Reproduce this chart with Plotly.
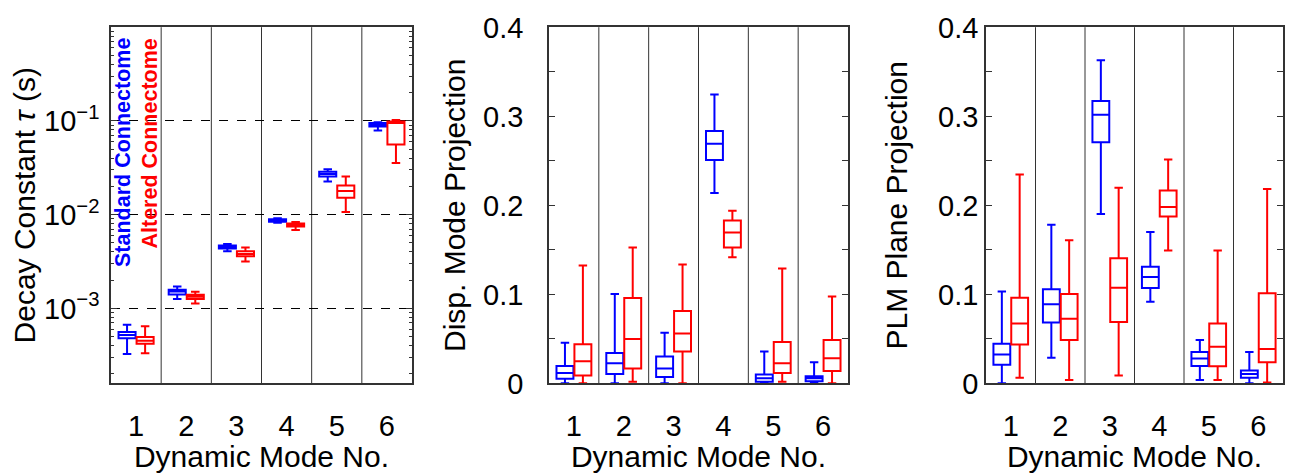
import plotly.graph_objects as go

modes = [1, 2, 3, 4, 5, 6]
tick_labels = ["1", "2", "3", "4", "5", "6"]

# Panel 1: decay constant tau (s), log scale
tau_std_low = [3.26e-4, 1.26e-3, 4.06e-3, 8.17e-3, 0.0226, 0.079]
tau_std_q1 = [4.8e-4, 1.41e-3, 4.36e-3, 8.42e-3, 0.0256, 0.0871]
tau_std_med = [5.2e-4, 1.51e-3, 4.54e-3, 8.69e-3, 0.0272, 0.0912]
tau_std_q3 = [5.6e-4, 1.58e-3, 4.68e-3, 8.95e-3, 0.0286, 0.0948]
tau_std_high = [6.7e-4, 1.71e-3, 4.86e-3, 9.16e-3, 0.0305, 0.097]

tau_alt_low = [3.33e-4, 1.13e-3, 3.16e-3, 6.86e-3, 0.01067, 0.0355]
tau_alt_q1 = [4.2e-4, 1.26e-3, 3.59e-3, 7.45e-3, 0.0151, 0.0561]
tau_alt_med = [4.5e-4, 1.33e-3, 3.81e-3, 7.74e-3, 0.01786, 0.0948]
tau_alt_q3 = [4.95e-4, 1.40e-3, 4.06e-3, 8.05e-3, 0.0205, 0.0985]
tau_alt_high = [6.45e-4, 1.50e-3, 4.45e-3, 8.36e-3, 0.0256, 0.1023]

# Panel 2: displacement mode projection
disp_std_low = [0.0, 0.0, 0.0, 0.2138, 0.0, 0.0]
disp_std_q1 = [0.0052, 0.0105, 0.007, 0.2511, 0.0017, 0.0024]
disp_std_med = [0.0115, 0.0227, 0.0167, 0.2692, 0.0056, 0.0056]
disp_std_q3 = [0.0195, 0.0342, 0.0303, 0.2835, 0.0098, 0.008]
disp_std_high = [0.0457, 0.1004, 0.0568, 0.3247, 0.0359, 0.0237]

disp_alt_low = [0.0, 0.0017, 0.0, 0.1416, 0.0017, 0.0]
disp_alt_q1 = [0.0087, 0.0167, 0.0359, 0.1527, 0.0115, 0.0139]
disp_alt_med = [0.0248, 0.0499, 0.0561, 0.1695, 0.0227, 0.0282]
disp_alt_q3 = [0.0439, 0.0959, 0.0813, 0.1831, 0.0464, 0.0488]
disp_alt_high = [0.1325, 0.1527, 0.1336, 0.1939, 0.129, 0.0976]

# Panel 3: PLM plane projection
plm_std_low = [0.0, 0.0289, 0.1904, 0.0917, 0.0038, 0.0]
plm_std_q1 = [0.0209, 0.0684, 0.271, 0.1071, 0.0195, 0.0063]
plm_std_med = [0.0324, 0.0889, 0.3017, 0.1196, 0.0279, 0.0105]
plm_std_q3 = [0.0446, 0.1057, 0.3174, 0.1311, 0.0352, 0.0143]
plm_std_high = [0.1032, 0.1782, 0.363, 0.1702, 0.0488, 0.0352]

plm_alt_low = [0.0063, 0.0038, 0.0087, 0.1493, 0.0038, 0.001]
plm_alt_q1 = [0.0436, 0.0488, 0.069, 0.1876, 0.0192, 0.0237]
plm_alt_med = [0.0673, 0.0725, 0.1074, 0.1981, 0.0412, 0.0387]
plm_alt_q3 = [0.0963, 0.1004, 0.1405, 0.2166, 0.0673, 0.1011]
plm_alt_high = [0.2347, 0.1608, 0.2197, 0.2514, 0.1493, 0.2183]

log_major = [1e-3, 1e-2, 1e-1]
log_major_text = ["10<sup>−3</sup>", "10<sup>−2</sup>", "10<sup>−1</sup>"]
log_minor = [m * 10.0 ** e for e in (-4, -3, -2, -1) for m in range(2, 10)]
lin_major = [0, 0.1, 0.2, 0.3, 0.4]
lin_major_text = ["0", "0.1", "0.2", "0.3", "0.4"]

BLUE = "#0000FF"
RED = "#FF0000"
FONT = "Liberation Sans, Arial, Helvetica, sans-serif"
OFF = 0.18
BW = 0.34
TICK_FS = 29
TITLE_FS = 30

W, H = 1290, 473
def px(x):
    return x / W
def py(y):
    return (H - y) / H

fig = go.Figure()

panels = [
    ("x", "y", (tau_std_low, tau_std_q1, tau_std_med, tau_std_q3, tau_std_high),
     (tau_alt_low, tau_alt_q1, tau_alt_med, tau_alt_q3, tau_alt_high)),
    ("x2", "y2", (disp_std_low, disp_std_q1, disp_std_med, disp_std_q3, disp_std_high),
     (disp_alt_low, disp_alt_q1, disp_alt_med, disp_alt_q3, disp_alt_high)),
    ("x3", "y3", (plm_std_low, plm_std_q1, plm_std_med, plm_std_q3, plm_std_high),
     (plm_alt_low, plm_alt_q1, plm_alt_med, plm_alt_q3, plm_alt_high)),
]

for xa, ya, std, alt in panels:
    for stats, color, off, name in [(std, BLUE, -OFF, "Standard Connectome"),
                                    (alt, RED, OFF, "Altered Connectome")]:
        lo, q1, med, q3, hi = stats
        fig.add_trace(go.Box(
            x=[m + off for m in modes], q1=q1, median=med, q3=q3,
            lowerfence=lo, upperfence=hi, name=name,
            width=BW, whiskerwidth=0.5, boxpoints=False,
            line=dict(color=color, width=2), fillcolor="rgba(0,0,0,0)",
            xaxis=xa, yaxis=ya, showlegend=False, hoverinfo="skip",
        ))

ydom = [py(394), py(12)]
xdoms = [[px(111), px(412)], [px(549), px(848)], [px(986), px(1283)]]
axcol = "#333333"

def xaxis(dom, anchor):
    return dict(domain=dom, anchor=anchor, range=[0.5, 6.5], tickvals=modes, ticktext=tick_labels,
                ticks="", ticklabelstandoff=16,
                showline=True, linecolor=axcol, linewidth=1.5, mirror=True,
                showgrid=False, zeroline=False,
                tickfont=dict(family=FONT, size=TICK_FS, color="black"),
                title=dict(text="Dynamic Mode No.", font=dict(family=FONT, size=TITLE_FS, color="black"), standoff=2))

fig.update_layout(
    width=W, height=H, margin=dict(l=0, r=0, t=0, b=0),
    paper_bgcolor="white", plot_bgcolor="white",
    font=dict(family=FONT, color="black"),
    boxmode="overlay",
    xaxis=xaxis(xdoms[0], "y"),
    xaxis2=xaxis(xdoms[1], "y2"),
    xaxis3=xaxis(xdoms[2], "y3"),
    yaxis=dict(domain=ydom, anchor="x", type="log", range=[-3.8, 0],
               tickvals=log_major, ticktext=log_major_text,
               ticks="inside", ticklen=6, tickcolor=axcol, ticklabelstandoff=4,
               ticklabeloverflow="allow",
               minor=dict(tickvals=log_minor, ticks="inside", ticklen=3, tickcolor=axcol, showgrid=False),
               showline=True, linecolor=axcol, linewidth=1.5, mirror="allticks",
               showgrid=True, gridcolor="black", griddash="dash", gridwidth=1,
               zeroline=False,
               tickfont=dict(family=FONT, size=TICK_FS, color="black"),
               title=dict(text="Decay Constant <i>τ</i> (s)", font=dict(family=FONT, size=TITLE_FS, color="black"), standoff=0)),
)
for i, ya, lstand, tstand, ttl in [(2, "yaxis2", 18, 9, "Disp. Mode Projection"),
                                   (3, "yaxis3", 0, 22, "PLM Plane Projection")]:
    fig.layout[ya] = dict(domain=ydom, anchor="x%d" % i, range=[0, 0.4002],
                          tickvals=lin_major, ticktext=lin_major_text,
                          ticks="inside", ticklen=6, tickcolor=axcol, ticklabelstandoff=lstand,
                          ticklabeloverflow="allow",
                          minor=dict(dtick=0.05, ticks="inside", ticklen=6, tickcolor=axcol, showgrid=False),
                          showline=True, linecolor=axcol, linewidth=1.5, mirror="allticks",
                          showgrid=False, zeroline=False,
                          tickfont=dict(family=FONT, size=TICK_FS, color="black"),
                          title=dict(text=ttl, font=dict(family=FONT, size=TITLE_FS, color="black"), standoff=tstand))

# category separators
for xr, yr in [("x", "y domain"), ("x2", "y2 domain"), ("x3", "y3 domain")]:
    for b in [1.5, 2.5, 3.5, 4.5, 5.5]:
        fig.add_shape(type="line", xref=xr, yref=yr, x0=b, x1=b, y0=0, y1=1,
                      line=dict(color=axcol, width=1), layer="below")

# legend-like labels
fig.add_annotation(x=px(123), y=py(22), xref="paper", yref="paper", xanchor="center", yanchor="top",
                   text="<b>Standard Connectome</b>", textangle=-90, showarrow=False,
                   font=dict(family=FONT, size=21.5, color=BLUE))
fig.add_annotation(x=px(150), y=py(22), xref="paper", yref="paper", xanchor="center", yanchor="top",
                   text="<b>Altered Connectome</b>", textangle=-90, showarrow=False,
                   font=dict(family=FONT, size=21.5, color=RED))

fig.write_html("out.html", config={"displayModeBar": False},
               post_script="document.body.style.margin='0';document.body.style.overflow='hidden';")
